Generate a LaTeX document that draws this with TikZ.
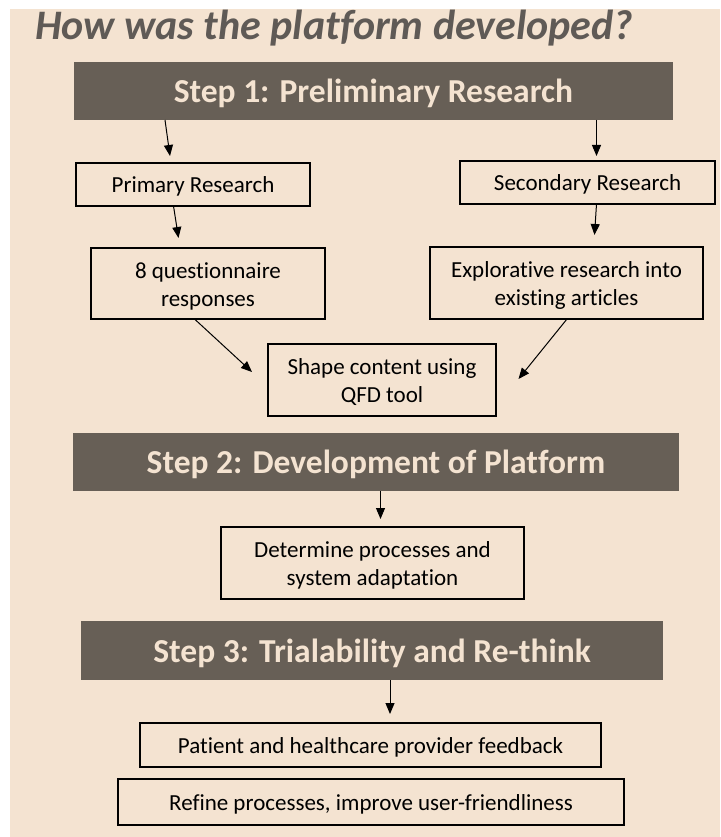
\documentclass[tikz,border=0pt]{standalone}
\usepackage{fontspec}
\setmainfont[Ligatures={NoCommon}]{Carlito}
\usetikzlibrary{arrows.meta}
\definecolor{bg}{RGB}{244,227,209}
\definecolor{stepc}{RGB}{103,95,86}
\definecolor{titlec}{RGB}{95,90,86}
\begin{document}
\begin{tikzpicture}[x=1pt,y=-1pt,
  stepbox/.style={fill=stepc, text=bg, inner sep=0pt, text height=32pt, text depth=8.4pt, font=\fontsize{33.5}{40}\selectfont\bfseries},
  infobox/.style={draw=black, line width=1.1pt, inner sep=0pt, align=center, text height=22.5pt, text depth=6pt, font=\fontsize{23}{28}\selectfont},
  twoline/.style={infobox, text height=51pt, text depth=6pt},
  arr/.style={line width=1pt, -{Triangle[length=11pt,width=9pt]}}]
\useasboundingbox (0,0) rectangle (720,837);
\fill[bg] (10,9) rectangle (720,837);
\node[anchor=base west, inner sep=0pt, text=titlec, font=\fontsize{42}{48}\selectfont\bfseries\itshape] (title) at (35,40) {How was the platform developed?};
% step 1
\node[stepbox, minimum width=599pt, minimum height=58pt] (step1) at (373.5,91) {Step 1: Preliminary Research};
\node[infobox, minimum width=234pt, minimum height=43pt] (prim) at (193,184.5) {Primary Research};
\node[infobox, minimum width=255pt, minimum height=43pt] (sec) at (587.5,182.5) {Secondary Research};
\node[twoline, minimum width=234pt, minimum height=71pt] (quest) at (208,283.5) {8 questionnaire\\responses};
\node[twoline, minimum width=273pt, minimum height=72pt] (expl) at (566.5,283) {Explorative research into\\existing articles};
\node[twoline, minimum width=228pt, minimum height=72pt] (shape) at (382,380) {Shape content using\\QFD tool};
% step 2
\node[stepbox, minimum width=606pt, minimum height=58pt] (step2) at (376,462) {Step 2: Development of Platform};
\node[twoline, minimum width=303pt, minimum height=72pt] (determ) at (372.5,563) {Determine processes and\\system adaptation};
% step 3
\node[stepbox, minimum width=582pt, minimum height=59pt] (step3) at (372,650.5) {Step 3: Trialability and Re-think};
\node[infobox, minimum width=461pt, minimum height=44pt] (patient) at (370.5,745) {Patient and healthcare provider feedback};
\node[infobox, minimum width=506pt, minimum height=46pt] (refine) at (371,802) {Refine processes, improve user-friendliness};
% arrow ends
\coordinate (a1s) at (165,120);   \coordinate (a1e) at (170,156);
\coordinate (a2s) at (596.5,120); \coordinate (a2e) at (596.5,156);
\coordinate (a3s) at (173.5,206); \coordinate (a3e) at (178.5,238);
\coordinate (a4s) at (596.5,204); \coordinate (a4e) at (594.5,235);
\coordinate (a5s) at (194.5,319); \coordinate (a5e) at (252,372);
\coordinate (a6s) at (567,319);   \coordinate (a6e) at (518.5,379);
\coordinate (a7s) at (380.5,491); \coordinate (a7e) at (380.5,519);
\coordinate (a8s) at (390,680);   \coordinate (a8e) at (390,714);
\draw[arr] (a1s) -- (a1e);
\draw[arr] (a2s) -- (a2e);
\draw[arr] (a3s) -- (a3e);
\draw[arr] (a4s) -- (a4e);
\draw[arr] (a5s) -- (a5e);
\draw[arr] (a6s) -- (a6e);
\draw[arr] (a7s) -- (a7e);
\draw[arr] (a8s) -- (a8e);
\end{tikzpicture}
\end{document}
